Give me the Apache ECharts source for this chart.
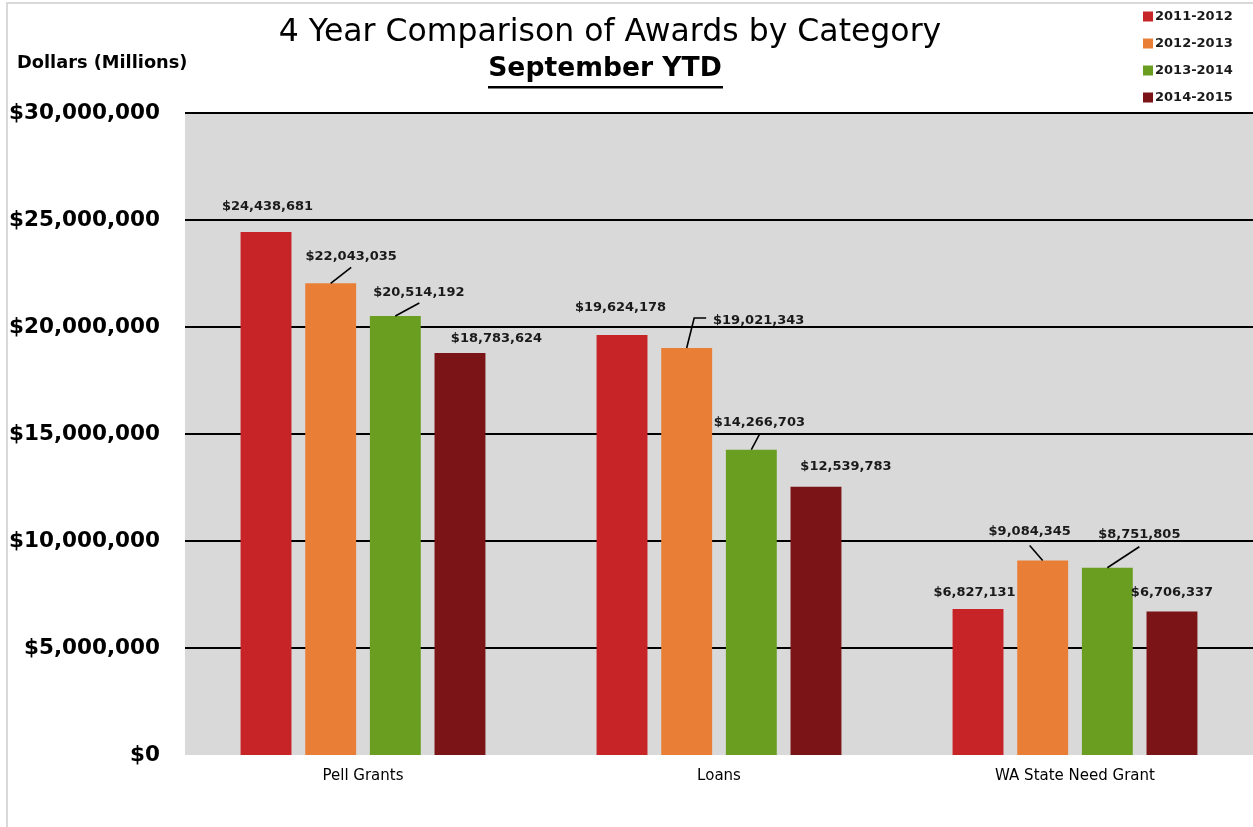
<!DOCTYPE html>
<html>
<head>
<meta charset="utf-8">
<script src="https://cdn.jsdelivr.net/npm/echarts@6/dist/echarts.min.js"></script>
<style>
html,body{margin:0;padding:0;background:#fff;}
#chart{position:absolute;left:0;top:0;width:1253px;height:827px;}
#frame{position:absolute;left:6px;top:2px;width:1260px;height:840px;border-left:2px solid #d9d9d9;border-top:2px solid #d9d9d9;pointer-events:none;}
</style>
</head>
<body>
<div id="chart"></div>
<div id="frame"></div>
<script>
const categories = ['Pell Grants', 'Loans', 'WA State Need Grant'];
const years = ['2011-2012', '2012-2013', '2013-2014', '2014-2015'];
const values2011 = [24438681, 19624178, 6827131];
const values2012 = [22043035, 19021343, 9084345];
const values2013 = [20514192, 14266703, 8751805];
const values2014 = [18783624, 12539783, 6706337];
const yTicks = [0, 5000000, 10000000, 15000000, 20000000, 25000000, 30000000];

const seriesValues = [values2011, values2012, values2013, values2014];
const colors = ['#C62426', '#E97F37', '#6A9E20', '#7A1416'];
// label shifts (px) relative to the default top label, per series then category
const labelShift = [
  [[1.5, -14], [-1.5, -16], [-3.5, -5]],
  [[20.5, -15], [72, -16], [-13, -17]],
  [[23.5, -12], [8, -16], [32, -22]],
  [[36.5, -3], [30, -9], [0, -7]]
];
// leader line bends (px) relative to the bar's top centre; null = no line
const leaderPath = [
  [null, null, null],
  [[[20.5, -16]], [[7.5, -30], [19.5, -30]], [[-13, -15]]],
  [[[24, -13]], [[8, -15]], [[32, -21]]],
  [null, null, null]
];

const BAR_W = 0.143, BAR_GAP = 0.27, NSER = 4;

function fmt(v) {
  return '$' + Math.round(v).toString().replace(/\B(?=(\d{3})+(?!\d))/g, ',');
}

const chart = echarts.init(document.getElementById('chart'));
const series = seriesValues.map((vals, si) => ({
  name: years[si],
  type: 'bar',
  barWidth: (BAR_W * 100) + '%',
  barGap: (BAR_GAP * 100) + '%',
  itemStyle: { color: colors[si] },
  data: vals,
  label: {
    show: true,
    position: 'top',
    distance: 5,
    formatter: p => fmt(p.value),
    fontFamily: 'DejaVu Sans',
    fontWeight: 'bold',
    fontSize: 13,
    color: '#1a1a1a'
  },
  labelLayout: function (p) {
    const s = labelShift[p.seriesIndex][p.dataIndex];
    return { dx: s[0], dy: s[1] };
  }
}));

// leader lines, anchored on the bars through the axis scales
const leaderData = [];
seriesValues.forEach((vals, si) => vals.forEach((v, ci) => {
  if (leaderPath[si][ci]) leaderData.push([ci, v, si]);
}));
series.push({
  type: 'custom',
  silent: true,
  z: 5,
  data: leaderData,
  renderItem: function (params, api) {
    const ci = api.value(0), v = api.value(1), si = api.value(2);
    const pt = api.coord([ci, v]);
    const band = api.size([1, 0])[0];
    const bw = band * BAR_W, gap = bw * BAR_GAP;
    const groupW = NSER * bw + (NSER - 1) * gap;
    const bx = pt[0] - groupW / 2 + bw / 2 + si * (bw + gap);
    const by = pt[1];
    const pts = [[bx, by]].concat(leaderPath[si][ci].map(o => [bx + o[0], by + o[1]]));
    return { type: 'polyline', shape: { points: pts }, style: { stroke: '#000', lineWidth: 1.6, fill: null } };
  }
});

chart.setOption({
  animation: false,
  backgroundColor: '#fff',
  color: colors,
  title: [
    {
      text: '4 Year Comparison of Awards by Category',
      left: 605, top: 12, textAlign: 'center',
      textStyle: { fontFamily: 'DejaVu Sans', fontSize: 31.5, fontWeight: 'normal', color: '#000' }
    },
    {
      text: 'Dollars (Millions)',
      left: 12, top: 49,
      textStyle: { fontFamily: 'DejaVu Sans', fontSize: 17.8, fontWeight: 'bold', color: '#000' }
    }
  ],
  graphic: [
    {
      type: 'text', x: 605, y: 56,
      style: { text: 'September YTD', align: 'center', verticalAlign: 'top', fontFamily: 'DejaVu Sans', fontSize: 26.6, fontWeight: 'bold', fill: '#000' }
    },
    {
      type: 'rect', shape: { x: 488, y: 86, width: 235, height: 2.5 }, style: { fill: '#000' }
    }
  ],
  legend: {
    orient: 'vertical',
    left: 1138, top: 5,
    itemWidth: 10, itemHeight: 10, itemGap: 14,
    icon: 'rect',
    textStyle: { fontFamily: 'DejaVu Sans', fontWeight: 'bold', fontSize: 13, color: '#1a1a1a', padding: [0, 0, 0, -3] },
    data: years
  },
  grid: {
    left: 185, right: -3, top: 113, bottom: 72,
    show: true, backgroundColor: '#D9D9D9', borderWidth: 0
  },
  xAxis: {
    type: 'category',
    data: categories,
    axisLine: { show: false },
    axisTick: { show: false },
    axisLabel: { fontFamily: 'DejaVu Sans', fontSize: 15, color: '#000', margin: 14 }
  },
  yAxis: {
    type: 'value',
    min: yTicks[0], max: yTicks[yTicks.length - 1], interval: yTicks[1] - yTicks[0],
    axisLine: { show: false },
    axisTick: { show: false },
    axisLabel: { formatter: v => fmt(v), fontFamily: 'DejaVu Sans', fontWeight: 'bold', fontSize: 21.5, color: '#000', margin: 25 },
    splitLine: { lineStyle: { color: ['rgba(0,0,0,0)', '#000', '#000', '#000', '#000', '#000', '#000'], width: 2 } }
  },
  series: series
});
</script>
</body>
</html>
